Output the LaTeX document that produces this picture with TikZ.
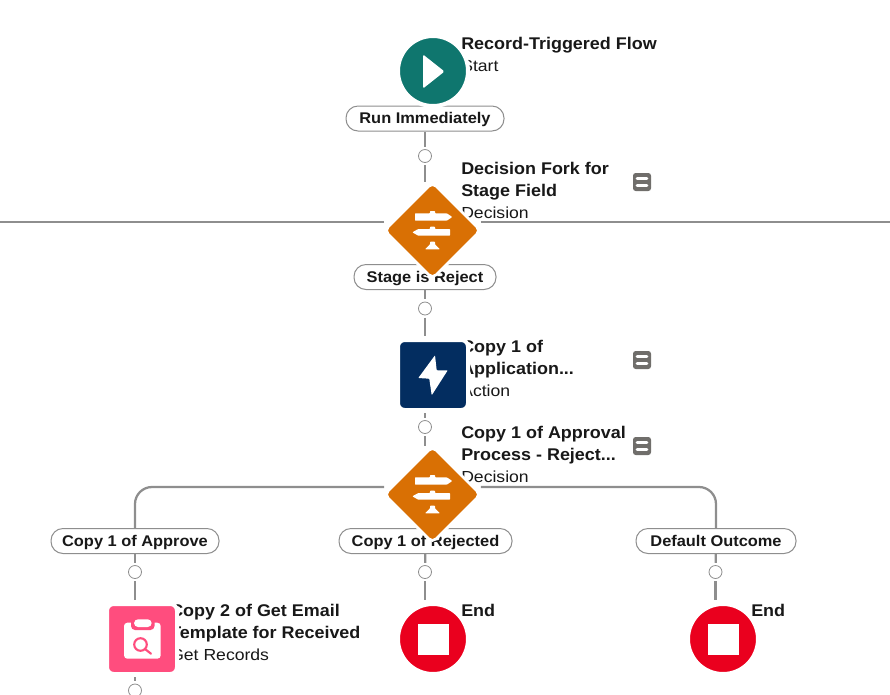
\documentclass[tikz,border=0pt]{standalone}
\usepackage{fontspec}
\setmainfont[FakeStretch=1.1]{Liberation Sans}
\newfontfamily\ttlfont[FakeStretch=1.06,BoldFont={Liberation Sans Bold}]{Liberation Sans}
\usetikzlibrary{shapes.geometric,backgrounds}
\definecolor{ink}{HTML}{181818}
\definecolor{conn}{HTML}{8E8E8E}
\definecolor{teal1}{HTML}{0F766E}
\definecolor{orange1}{HTML}{D97004}
\definecolor{navy1}{HTML}{032D60}
\definecolor{pink1}{HTML}{FF4D7E}
\definecolor{red1}{HTML}{EA001E}
\definecolor{note1}{HTML}{706E6B}
\pgfdeclarelayer{connlayer}
\pgfdeclarelayer{midlayer}
\pgfsetlayers{connlayer,midlayer,main}
\newcommand{\ttl}[1]{{\ttlfont\bfseries\fontsize{12.7pt}{16.5pt}\selectfont #1}}
\tikzset{
  x=0.75pt,y=-0.75pt,
  link/.style={draw=conn,line width=1.7pt},
  pillbox/.style={draw=conn,fill=white,line width=0.75pt,rounded corners=9pt,minimum height=18.75pt,inner sep=0pt,text=ink,text height=10pt,text depth=2pt,font=\ttlfont\fontsize{11.6pt}{14pt}\selectfont\bfseries},
  dot/.style={circle,draw=conn,fill=white,line width=0.6pt,minimum size=9.75pt,inner sep=0pt,outer sep=2pt},
  roundicon/.style={circle,draw=white,line width=3pt,minimum size=52.5pt,inner sep=0pt},
  squareicon/.style={rectangle,draw=white,line width=3pt,minimum size=52.5pt,inner sep=0pt,rounded corners=5pt},
  forkicon/.style={diamond,fill=orange1,draw=white,line width=2pt,minimum width=73pt,minimum height=73pt,aspect=1,inner sep=0pt,rounded corners=4pt},
  notebox/.style={rectangle,fill=note1,minimum size=13.5pt,inner sep=0pt,rounded corners=2pt},
  caption/.style={anchor=north west,inner sep=0pt,align=left,text=ink,font=\fontsize{12pt}{16.5pt}\selectfont},
}
\newcommand{\signpost}[1]{%
  \begin{scope}[shift={(#1)},fill=white,draw=none]
    \fill[rounded corners=0.5pt] (-17.5,-17.2) -- (-2.5,-17.2) -- (-2.5,-19.5) -- (2.5,-19.5) -- (2.5,-17.2) -- (14.2,-17.2) -- (19.8,-13.5) -- (14.2,-9.8) -- (-17.5,-9.8) -- cycle;
    \fill[rounded corners=0.5pt] (17.5,-1.5) -- (2.5,-1.5) -- (2.5,-3.8) -- (-2.5,-3.8) -- (-2.5,-1.5) -- (-14.2,-1.5) -- (-20.2,1.8) -- (-14.2,5.2) -- (17.5,5.2) -- cycle;
    \fill[rounded corners=0.5pt] (-7.5,18.8) -- (-2.5,14) -- (-2.5,11.2) -- (2.5,11.2) -- (2.5,14) -- (7.5,18.8) -- cycle;
  \end{scope}}
\newcommand{\notelines}[1]{%
  \begin{scope}[shift={(#1)}]
    \draw[white,line width=2.2pt,line cap=round] (-4.8,-3.7) -- (4.8,-3.7) (-4.8,3.7) -- (4.8,3.7);
  \end{scope}}
\begin{document}
\begin{tikzpicture}
\useasboundingbox (0,0) rectangle (890,694);
% icons (topmost)
\node[roundicon,fill=teal1] (start) at (433,71) {};
\fill[white,rounded corners=1pt] (423,54.5) -- (444.5,71.5) -- (423,88.5) -- cycle;
\node[forkicon] (fork1) at (432.5,230.5) {};
\signpost{432.5,230.5}
\node[squareicon,fill=navy1] (action) at (433,375) {};
\fill[white,rounded corners=0.5pt] (435,355.3) -- (418.3,378) -- (429.3,378.7) -- (431.7,395.3) -- (447.7,370.3) -- (436.7,370.3) -- cycle;
\node[forkicon] (fork2) at (432.5,494.5) {};
\signpost{432.5,494.5}
\node[squareicon,fill=pink1] (records) at (142,639) {};
\fill[white,rounded corners=2.5pt] (124,622.7) rectangle (160.7,658.7);
\fill[pink1,rounded corners=3pt] (131,616) rectangle (154.5,630);
\fill[white,rounded corners=3pt] (134,619.3) rectangle (151.7,627);
\draw[pink1,line width=1.6pt] (140.5,644.5) circle (6.3);
\draw[pink1,line width=1.6pt,line cap=round] (145,649) -- (151,653.7);
\node[roundicon,fill=red1] (end1) at (433,639) {};
\fill[white] (417.5,623.5) rectangle (448.5,654.5);
\node[roundicon,fill=red1] (end2) at (723,639) {};
\fill[white] (707.5,623.5) rectangle (738.5,654.5);
\node[notebox] (note1) at (642,182) {};
\notelines{642,182}
\node[notebox] (note2) at (642,360) {};
\notelines{642,360}
\node[notebox] (note3) at (642,446) {};
\notelines{642,446}
% texts, pills, dots
\begin{pgfonlayer}{midlayer}
\node[caption] (t1) at (461,34) {\strut\ttl{Record-Triggered Flow}\\Start};
\node[caption] (t2) at (461,159) {\strut\ttl{Decision Fork for}\\\ttl{Stage Field}\\Decision};
\node[caption] (t3) at (461,337) {\strut\ttl{Copy 1 of}\\\ttl{Application...}\\Action};
\node[caption] (t4) at (461,423) {\strut\ttl{Copy 1 of Approval}\\\ttl{Process - Reject...}\\Decision};
\node[caption] (t5) at (170,601) {\strut\ttl{Copy 2 of Get Email}\\\ttl{Template for Received}\\Get Records};
\node[caption] (t6) at (461,601) {\strut\ttl{End}};
\node[caption] (t7) at (751,601) {\strut\ttl{End}};
\node[pillbox,minimum width=118.5pt] (p1) at (425,118.5) {Run Immediately};
\node[pillbox,minimum width=106.5pt] (p2) at (425,277) {Stage is Reject};
\node[pillbox,minimum width=126pt] (p3) at (135,541) {Copy 1 of Approve};
\node[pillbox,minimum width=129.75pt] (p4) at (425.5,541) {Copy 1 of Rejected};
\node[pillbox,minimum width=120pt] (p5) at (716,541) {Default Outcome};
\node[dot] (c1) at (425,156) {};
\node[dot] (c2) at (425,308.5) {};
\node[dot] (c3) at (425,427) {};
\node[dot] (c4) at (135,572) {};
\node[dot] (c5) at (425,572) {};
\node[dot] (c6) at (715.5,572) {};
\node[dot] (c7) at (135,690.5) {};
\end{pgfonlayer}
% connectors
\coordinate (lft1) at (0,222);
\coordinate (rgt1) at (890,222);
\coordinate (h1) at (432.5,222);
\coordinate (h2) at (432.5,487);
\begin{pgfonlayer}{connlayer}
\draw[link] (start) -- (p1);
\draw[link] (p1) -- (c1);
\draw[link,shorten >=-1pt] (c1) -- (c1 |- fork1.north);
\draw[link,shorten <=-1.2pt] (fork1.west |- h1) -- (lft1);
\draw[link,shorten <=-1.2pt] (fork1.east |- h1) -- (rgt1);
\draw[link] (p2 |- fork1.south) -- (p2);
\draw[link] (p2) -- (c2);
\draw[link,shorten >=1.5pt] (c2) -- (c2 |- action.north);
\draw[link,shorten <=0.75pt] (c3 |- action.south) -- (c3);
\draw[link,shorten >=-1pt] (c3) -- (c3 |- fork2.north);
\draw[link,rounded corners=12.75pt,shorten <=-1.2pt] (fork2.west |- h2) -- (p3 |- h2) -- (p3);
\draw[link,rounded corners=12.75pt,shorten <=-1.2pt] (fork2.east |- h2) -- (p5 |- h2) -- (p5);
\draw[link] (p4 |- fork2.south) -- (p4);
\draw[link] (p3) -- (c4);
\draw[link] (p4) -- (c5);
\draw[link] (p5) -- (c6);
\draw[link,shorten >=1.5pt] (c4) -- (c4 |- records.north);
\draw[link,shorten >=1.5pt] (c5) -- (c5 |- end1.north);
\draw[link,shorten >=1.5pt] (c6) -- (c6 |- end2.north);
\draw[link,shorten <=0.75pt] (c7 |- records.south) -- (c7);
\end{pgfonlayer}
\end{tikzpicture}
\end{document}
